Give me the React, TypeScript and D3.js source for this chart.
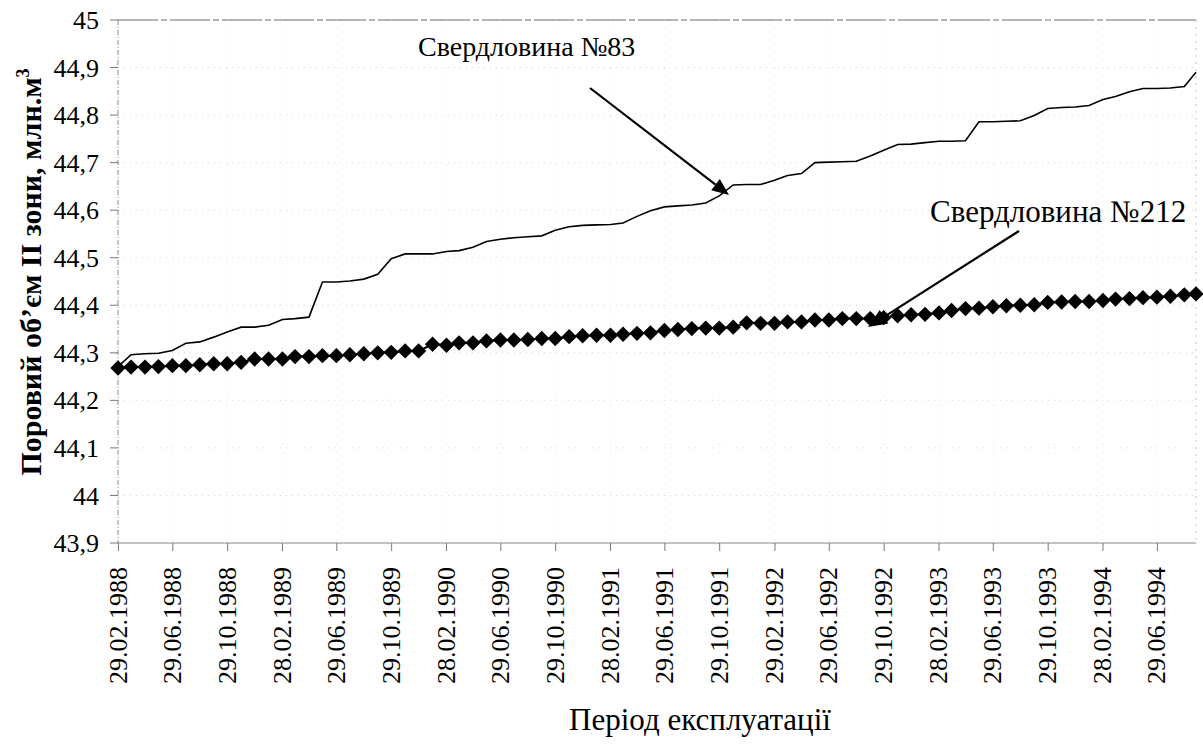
import React from "react";
import * as d3 from "d3";

// ---- data ----
const tickLabels = [
  "29.02.1988", "29.06.1988", "29.10.1988", "28.02.1989", "29.06.1989",
  "29.10.1989", "28.02.1990", "29.06.1990", "29.10.1990", "28.02.1991",
  "29.06.1991", "29.10.1991", "29.02.1992", "29.06.1992", "29.10.1992",
  "28.02.1993", "29.06.1993", "29.10.1993", "28.02.1994", "29.06.1994",
];
const yTickValues = [43.9, 44.0, 44.1, 44.2, 44.3, 44.4, 44.5, 44.6, 44.7, 44.8, 44.9, 45.0];

const firstDate = "28.02.1988";
const lastDate = "23.09.1994";
const monthlyCount = 79;

const well83 = [
  44.271, 44.296, 44.298, 44.299, 44.305, 44.320, 44.323, 44.333, 44.344, 44.354,
  44.354, 44.358, 44.370, 44.372, 44.375, 44.449, 44.449, 44.451, 44.455, 44.465,
  44.498, 44.508, 44.508, 44.508, 44.513, 44.515, 44.522, 44.534, 44.539, 44.542,
  44.544, 44.546, 44.558, 44.565, 44.568, 44.569, 44.570, 44.573, 44.587, 44.599,
  44.607, 44.609, 44.611, 44.615, 44.630, 44.653, 44.654, 44.654, 44.663, 44.673,
  44.677, 44.700, 44.701, 44.702, 44.703, 44.714, 44.726, 44.738, 44.739, 44.742,
  44.745, 44.745, 44.746, 44.786, 44.786, 44.787, 44.788, 44.799, 44.814, 44.816,
  44.817, 44.820, 44.833, 44.839, 44.849, 44.856, 44.856, 44.857, 44.860, 44.890,
];
const well212 = [
  44.268, 44.270, 44.270, 44.271, 44.273, 44.273, 44.275, 44.277, 44.277, 44.280,
  44.287, 44.287, 44.287, 44.292, 44.292, 44.294, 44.294, 44.296, 44.298, 44.300,
  44.301, 44.304, 44.304, 44.318, 44.316, 44.321, 44.321, 44.325, 44.327, 44.327,
  44.328, 44.330, 44.330, 44.334, 44.336, 44.337, 44.337, 44.339, 44.341, 44.342,
  44.347, 44.349, 44.351, 44.352, 44.352, 44.354, 44.363, 44.362, 44.362, 44.365,
  44.365, 44.369, 44.369, 44.372, 44.372, 44.372, 44.374, 44.378, 44.380, 44.381,
  44.384, 44.389, 44.393, 44.394, 44.397, 44.399, 44.400, 44.401, 44.406, 44.407,
  44.408, 44.408, 44.410, 44.413, 44.414, 44.416, 44.417, 44.419, 44.422, 44.424,
];

const label83 = "Свердловина №83";
const label212 = "Свердловина №212";
const xTitle = "Період експлуатації";
const yTitle = "Поровий об’єм ІІ зони, млн.м";

// ---- layout ----
const W = 1203;
const H = 744;
const left = 118;
const right = 1196;
const top = 20;
const bottom = 543;
const serif = "Liberation Serif, Times New Roman, serif";

const parse = d3.timeParse("%d.%m.%Y");
const start = parse(firstDate) as Date;
const end = parse(lastDate) as Date;
const dates: Date[] = d3
  .range(monthlyCount)
  .map((i) => d3.timeMonth.offset(start, i))
  .concat([end]);

const x = d3.scaleTime().domain([start, end]).range([left, right]);
const y = d3.scaleLinear().domain([43.9, 45]).range([bottom, top]);

const line83 = d3
  .line<number>()
  .x((_, i) => x(dates[i]))
  .y((d) => y(d));
const line212 = line83;

const diamond = d3.symbol(d3.symbolSquare, 118)() as string;

const fmt = (v: number) => (Math.round(v * 10) / 10).toString().replace(".", ",");

function Arrow({ x1, y1, x2, y2, len = 17, hw = 7 }: { x1: number; y1: number; x2: number; y2: number; len?: number; hw?: number }) {
  const ang = Math.atan2(y2 - y1, x2 - x1);
  const bx = x2 - len * Math.cos(ang);
  const by = y2 - len * Math.sin(ang);
  const px = -Math.sin(ang) * hw;
  const py = Math.cos(ang) * hw;
  return (
    <g>
      <line x1={x1} y1={y1} x2={bx} y2={by} stroke="#000" strokeWidth={2.2} />
      <path d={`M${x2},${y2}L${bx + px},${by + py}L${bx - px},${by - py}Z`} fill="#000" />
    </g>
  );
}

export default function App() {
  const tickDates = tickLabels.map((t) => parse(t) as Date);
  return (
    <svg
      width={W}
      height={H}
      viewBox={`0 0 ${W} ${H}`}
      style={{ position: "absolute", left: 0, top: 0, background: "#fff", fontFamily: serif }}
    >
      <rect x={0} y={0} width={W} height={H} fill="#fff" />
      {yTickValues.map((v) => (
        <line
          key={"g" + v}
          x1={left}
          x2={right}
          y1={y(v)}
          y2={y(v)}
          stroke={v === 45 ? "#9a9a9a" : "#d4d4d4"}
          strokeWidth={v === 45 ? 1.5 : 1}
          strokeDasharray={v === 45 ? "40,3,6,3" : "1,5"}
        />
      ))}
      {tickDates.map((d, i) =>
        i === 0 ? null : (
          <line key={"vg" + i} x1={x(d)} x2={x(d)} y1={top} y2={bottom} stroke="#e2e2e2" strokeDasharray="1,7" />
        )
      )}
      <line x1={right} x2={right} y1={top} y2={bottom} stroke="#c4c4c4" strokeDasharray="2,5" />
      <line x1={left} x2={left} y1={top} y2={bottom} stroke="#8a8a8a" strokeWidth={1} strokeDasharray="5,2,1,2" />
      {yTickValues.map((v) => (
        <g key={"yt" + v}>
          <line x1={left - 8} x2={left} y1={y(v)} y2={y(v)} stroke="#777" />
          <text x={99} y={y(v)} dy="0.35em" textAnchor="end" fontSize={26} fill="#000">
            {fmt(v)}
          </text>
        </g>
      ))}
      <line x1={left} x2={right} y1={bottom} y2={bottom} stroke="#8a8a8a" strokeWidth={1.2} />
      {tickDates.map((d, i) => (
        <g key={"xt" + i}>
          <line x1={x(d)} x2={x(d)} y1={bottom} y2={bottom + 8} stroke="#777" />
          <text
            transform={`translate(${x(d) - 1},${bottom + 24}) rotate(-90)`}
            textAnchor="end"
            dy="0.35em"
            fontSize={26}
            fill="#000"
          >
            {tickLabels[i]}
          </text>
        </g>
      ))}
      <path d={line83(well83) as string} fill="none" stroke="#000" strokeWidth={1.6} />
      <path d={line212(well212) as string} fill="none" stroke="#000" strokeWidth={2} />
      {well212.map((v, i) => (
        <path
          key={"d" + i}
          d={diamond}
          transform={`translate(${x(dates[i])},${y(v)}) rotate(45)`}
          fill="#000"
        />
      ))}
      <text x={418} y={56} fontSize={28} fill="#000">
        {label83}
      </text>
      <Arrow x1={590} y1={88} x2={729} y2={195} />
      <text x={930} y={222} fontSize={31} fill="#000">
        {label212}
      </text>
      <Arrow x1={1019} y1={231} x2={868} y2={327} len={19} hw={8} />
      <text x={700} y={730} textAnchor="middle" fontSize={31} fill="#000">
        {xTitle}
      </text>
      <text
        transform={`translate(41,272) rotate(-90)`}
        textAnchor="middle"
        fontSize={30}
        fontWeight="bold"
        fill="#000"
      >
        {yTitle}
        <tspan dy={-12} fontSize={18}>
          3
        </tspan>
      </text>
    </svg>
  );
}
